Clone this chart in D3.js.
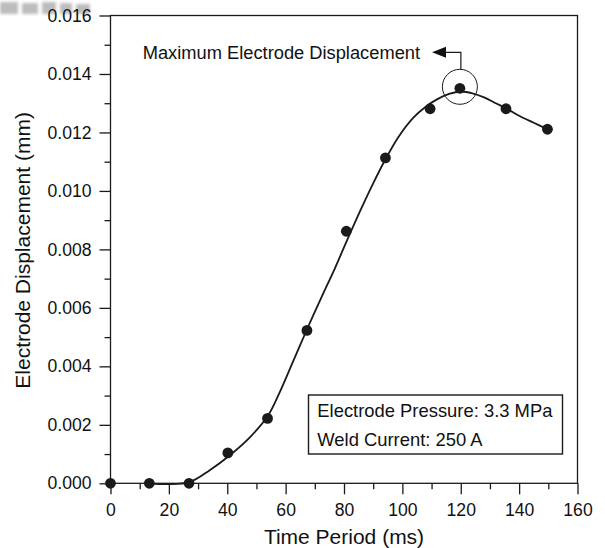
<!DOCTYPE html>
<html>
<head>
<meta charset="utf-8">
<script src="https://cdn.jsdelivr.net/npm/d3@7"></script>
<style>
  html, body { margin: 0; padding: 0; background: #fff; }
  svg { display: block; font-family: "Liberation Sans", Arial, Helvetica, sans-serif; }
</style>
</head>
<body>
<svg id="chart" width="605" height="548"></svg>
<script>
// Measured data points
const timeMs = [0, 13.3, 26.9, 40.2, 53.8, 67.3, 80.8, 94.2, 109.5, 119.7, 135.5, 149.7];
const displacement = [0, 0, 0, 0.00104, 0.00222, 0.00523, 0.00862, 0.01113, 0.01281, 0.01351, 0.01281, 0.01211];

// Fitted curve
const fitT = [13.3, 20, 27, 34, 41, 48, 54, 58, 62.6, 67.3, 72, 77, 81, 85.7, 90, 94.3, 98.6, 103.7, 108, 112, 116, 120, 124, 128, 132, 136, 140, 145, 149.7];
const fitV = [0, -0.00003, 0.00004, 0.00045, 0.00097, 0.00160, 0.00232, 0.00312, 0.00418, 0.00526, 0.00630, 0.00738, 0.00830, 0.00935, 0.01026, 0.01110, 0.01184, 0.01250, 0.01288, 0.01314, 0.01332, 0.01340, 0.01334, 0.01320, 0.01300, 0.01280, 0.01257, 0.01233, 0.01211];

// Ticks
const xTicks = [0, 20, 40, 60, 80, 100, 120, 140, 160];
const xMinor = [10, 30, 50, 70, 90, 110, 130, 150];
const yTicks = [0, 0.002, 0.004, 0.006, 0.008, 0.010, 0.012, 0.014, 0.016];
const yMinor = [0.001, 0.003, 0.005, 0.007, 0.009, 0.011, 0.013, 0.015];

const xTitle = "Time Period (ms)";
const yTitle = "Electrode Displacement (mm)";
const annotation = "Maximum Electrode Displacement";
const legendLines = ["Electrode Pressure: 3.3 MPa", "Weld Current: 250 A"];
const maxIndex = 9;

const svg = d3.select("#chart");
const pLeft = 110.5, pRight = 577.5, pTop = 15.5, pBottom = 483.3;
const x = d3.scaleLinear().domain([0, 160]).range([pLeft, pRight]);
const y = d3.scaleLinear().domain([0, 0.016]).range([pBottom, pTop]);

// faint blurred header artifact at top-left
const defs = svg.append("defs");
defs.append("filter").attr("id", "blur").append("feGaussianBlur").attr("stdDeviation", 1.6);
const art = svg.append("g").attr("filter", "url(#blur)").attr("fill", "#bdbdbd");
[[0,2,18,12],[22,3,16,11],[42,2,14,12],[60,3,12,11],[76,4,14,10]].forEach(r => {
  art.append("rect").attr("x", r[0]).attr("y", r[1]).attr("width", r[2]).attr("height", r[3]);
});

// Frame
svg.append("rect")
  .attr("x", pLeft).attr("y", pTop)
  .attr("width", pRight - pLeft).attr("height", pBottom - pTop)
  .attr("fill", "none").attr("stroke", "#1a1a1a").attr("stroke-width", 1.3);

// Axes
function styleAxis(g) {
  g.select(".domain").remove();
  g.selectAll(".tick line").attr("stroke", "#1a1a1a").attr("stroke-width", 1.3);
  g.selectAll(".tick text").attr("fill", "#111").style("font-size", "17.6px")
    .style("font-family", '"Liberation Sans", Arial, sans-serif');
}
svg.append("g").attr("transform", `translate(0,${pBottom})`)
  .call(d3.axisBottom(x).tickValues(xTicks).tickSize(11).tickPadding(9).tickFormat(d3.format("d")))
  .call(styleAxis);
svg.append("g").attr("transform", `translate(0,${pBottom})`)
  .call(d3.axisBottom(x).tickValues(xMinor).tickSize(6).tickFormat(""))
  .call(styleAxis);
svg.append("g").attr("transform", `translate(${pLeft},0)`)
  .call(d3.axisLeft(y).tickValues(yTicks).tickSize(11).tickPadding(8).tickFormat(d3.format(".3f")))
  .call(styleAxis);
svg.append("g").attr("transform", `translate(${pLeft},0)`)
  .call(d3.axisLeft(y).tickValues(yMinor).tickSize(6).tickFormat(""))
  .call(styleAxis);

// Axis titles
svg.append("text").attr("x", (pLeft + pRight) / 2).attr("y", 543.5)
  .attr("text-anchor", "middle").style("font-size", "21px").attr("fill", "#111").text(xTitle);
svg.append("text").attr("transform", `translate(30,${(pTop + pBottom) / 2 + 1}) rotate(-90)`)
  .attr("text-anchor", "middle").style("font-size", "21px").attr("fill", "#111").text(yTitle);

// Fitted curve
const line = d3.line().x((d, i) => x(fitT[i])).y((d, i) => y(fitV[i])).curve(d3.curveCatmullRom.alpha(0.5));
svg.append("path").datum(fitV).attr("d", line)
  .attr("fill", "none").attr("stroke", "#1a1a1a").attr("stroke-width", 1.8);

// Data points
svg.append("g").selectAll("circle").data(displacement).join("circle")
  .attr("cx", (d, i) => x(timeMs[i])).attr("cy", d => y(d)).attr("r", 5.4)
  .attr("fill", "#1a1a1a");

// Annotation: circle around max, connector and arrow
const mx = x(timeMs[maxIndex]), my = y(displacement[maxIndex]);
const cr = 17.5;
svg.append("circle").attr("cx", mx).attr("cy", my - 1.5).attr("r", cr)
  .attr("fill", "none").attr("stroke", "#1a1a1a").attr("stroke-width", 1);
const arrowY = 52.3;
svg.append("path")
  .attr("d", `M${mx + 1},${my - 1.5 - cr} V${arrowY} H${445}`)
  .attr("fill", "none").attr("stroke", "#1a1a1a").attr("stroke-width", 1.2);
svg.append("path")
  .attr("d", `M${432},${arrowY} L${446},${arrowY - 5.5} L${446},${arrowY + 5.5} Z`)
  .attr("fill", "#111");
svg.append("text").attr("x", 142.7).attr("y", 59.3)
  .style("font-size", "18.3px").attr("fill", "#111").text(annotation);

// Legend box
svg.append("rect").attr("x", 308.5).attr("y", 395).attr("width", 254).attr("height", 59)
  .attr("fill", "#fff").attr("stroke", "#1a1a1a").attr("stroke-width", 1.4);
svg.append("g").selectAll("text").data(legendLines).join("text")
  .attr("x", 317.3).attr("y", (d, i) => 416.7 + i * 29)
  .style("font-size", "18.4px").attr("fill", "#111").text(d => d);
</script>
</body>
</html>
